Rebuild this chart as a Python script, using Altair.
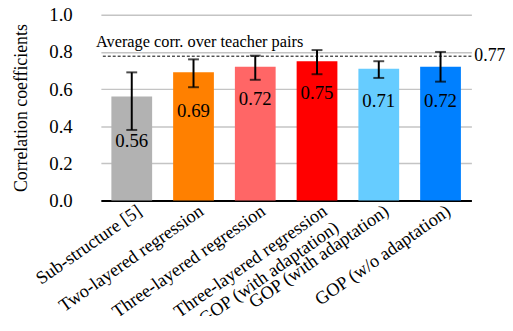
import altair as alt
import pandas as pd

categories = [
    "Sub-structure [5]",
    "Two-layered regression",
    "Three-layered regression",
    "Three-layered regression + GOP (with adaptation)",
    "GOP (with adaptation)",
    "GOP (w/o adaptation)",
]
values = [0.56, 0.69, 0.72, 0.75, 0.71, 0.72]
err_low = [0.38, 0.61, 0.65, 0.68, 0.66, 0.64]
err_high = [0.69, 0.76, 0.78, 0.81, 0.75, 0.80]
label_pos = [0.32, 0.48, 0.545, 0.58, 0.535, 0.535]
y_ticks = [0.0, 0.2, 0.4, 0.6, 0.8, 1.0]
colors = ["#b2b2b2", "#ff8000", "#ff6666", "#ff0000", "#66ccff", "#0080ff"]
avg_value = 0.777
avg_label = "0.77"
avg_text = "Average corr. over teacher pairs"

df = pd.DataFrame({
    "cat": categories,
    "value": values,
    "low": err_low,
    "high": err_high,
    "lpos": label_pos,
    "label": [f"{v:.2f}" for v in values],
})

FONT = "Liberation Serif"
W, H = 375, 188

x_axis = alt.Axis(
    title=None,
    labelAngle=-35,
    labelAlign="right",
    labelBaseline="middle",
    labelFont=FONT,
    labelFontSize=18.5,
    labelColor="black",
    labelPadding=8,
    labelOffset=8,
    labelLimit=400,
    labelOverlap=False,
    labelExpr="indexof(datum.label, ' + ') > 0 ? ['Three-layered regression', '+ GOP (with adaptation)'] : datum.label",
    ticks=False,
    domainColor="black",
    domainWidth=2,
    grid=False,
)
x_scale = alt.Scale(paddingInner=0.34, paddingOuter=0.17)


def xe():
    return alt.X("cat:N", sort=categories, scale=x_scale, axis=x_axis)


y_scale = alt.Scale(domain=[0, 1])
y_axis = alt.Axis(
    title="Correlation coefficients",
    titleFont=FONT,
    titleFontSize=18,
    titleFontWeight="normal",
    titleColor="black",
    titlePadding=19,
    values=y_ticks,
    format=".1f",
    labelFont=FONT,
    labelFontSize=19,
    labelColor="black",
    labelPadding=29,
    labelOverlap=False,
    ticks=False,
    domain=False,
    grid=True,
    gridColor="#c4c4c4",
    gridWidth=1.5,
)


def ye(field):
    return alt.Y(field, scale=y_scale, axis=y_axis)


base = alt.Chart(df)

bars = base.mark_bar().encode(
    x=xe(),
    y=ye("value:Q"),
    color=alt.Color("cat:N", sort=categories,
                    scale=alt.Scale(domain=categories, range=colors),
                    legend=None),
)

err = base.mark_rule(color="black", strokeWidth=2).encode(
    x=xe(), y=ye("low:Q"), y2="high:Q",
)
cap_low = base.mark_tick(color="black", thickness=2, size=11, orient="horizontal").encode(
    x=xe(), y=ye("low:Q")
)
cap_high = base.mark_tick(color="black", thickness=2, size=11, orient="horizontal").encode(
    x=xe(), y=ye("high:Q")
)

labels = base.mark_text(fontSize=19, color="black", font=FONT, baseline="middle").encode(
    x=xe(), y=ye("lpos:Q"), text="label:N",
)

avg_df = pd.DataFrame({"avg": [avg_value], "lab": [avg_label], "txt": [avg_text]})
avg_base = alt.Chart(avg_df)
avg_line = avg_base.mark_rule(color="black", strokeWidth=1, strokeDash=[3, 2]).encode(
    y=ye("avg:Q")
)
avg_num = avg_base.mark_text(align="left", baseline="middle", fontSize=18, font=FONT, color="black", dx=3).encode(
    x=alt.value(W), y=ye("avg:Q"), text="lab:N"
)
avg_txt = avg_base.mark_text(align="left", baseline="alphabetic", fontSize=16.5, font=FONT, color="black", dy=-9).encode(
    x=alt.value(-5), y=ye("avg:Q"), text="txt:N"
)

chart = alt.layer(bars, avg_line, err, cap_low, cap_high, labels, avg_num, avg_txt).properties(
    width=W,
    height=H,
    autosize=alt.AutoSizeParams(type="none"),
    padding={"left": 94, "top": 5, "right": 34, "bottom": 115},
).configure_view(stroke=None)

chart.save("out.html", embed_options={"renderer": "svg", "actions": False})
